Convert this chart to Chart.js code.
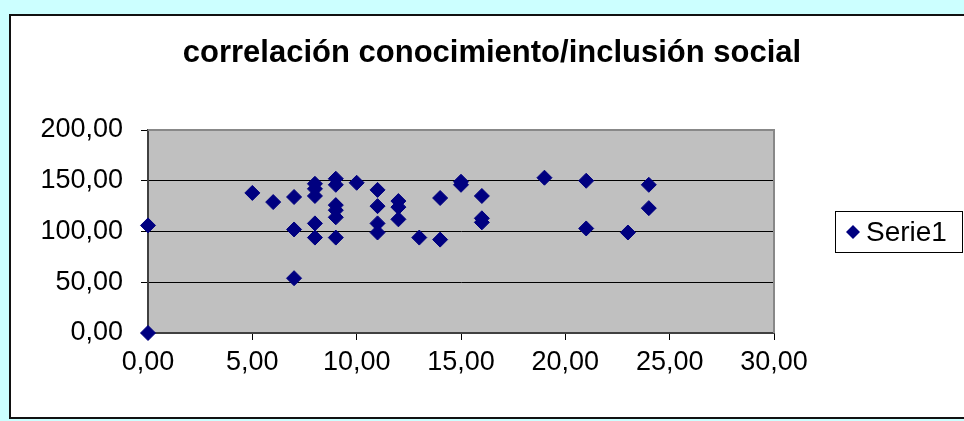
<!DOCTYPE html>
<html>
<head>
<meta charset="utf-8">
<script src="https://cdn.jsdelivr.net/npm/chart.js@4/dist/chart.umd.min.js"></script>
<style>
    html, body { margin: 0; padding: 0; background: #ccffff; }
    #wrap { position: absolute; left: 0; top: 0; width: 964px; height: 421px; overflow: hidden; }
    #frame { position: absolute; left: 9px; top: 14px; width: 1000px; height: 401px; background: #fff; border: 2px solid #111; }
    #chart { position: absolute; left: 0; top: 0; }
</style>
</head>
<body>
<div id="wrap">
    <div id="frame"></div>
    <canvas id="chart" width="964" height="421"></canvas>
</div>
<script>
// puntos (conocimiento, inclusion social)
var conocimiento = [0, 0, 5, 6, 7, 7, 7, 8, 8, 8, 8, 8, 9, 9, 9, 9, 9, 9, 10, 11, 11, 11, 11, 12, 12, 12, 13, 14, 14, 15, 15, 16, 16, 16, 19, 21, 21, 23, 24, 24];
var inclusion    = [106, 0, 138, 129, 134, 102, 54, 147, 142, 135, 108, 94, 152, 146, 126, 121, 114, 94, 148, 141, 125, 108, 99, 130, 124, 112, 94, 133, 92, 149, 146, 135, 113, 109, 153, 150, 103, 99, 146, 123];
var serieLabel = 'Serie1';
var chartTitle = 'correlación conocimiento/inclusión social';
var xTicks = [0, 5, 10, 15, 20, 25, 30];
var yTicks = [0, 50, 100, 150, 200];

;(function(win){
    var FONT = '"Liberation Sans", Arial, sans-serif';
    var NAVY = '#000080';

    function fmt(v){
        return Number(v).toFixed(2).replace('.', ',');
    }

    var points = conocimiento.map(function(x, i){
        return {x: x, y: inclusion[i]};
    });

    var decor = {
        id: 'decor',
        beforeDraw: function(chart){
            var a = chart.chartArea, ctx = chart.ctx;
            ctx.save();
            ctx.fillStyle = '#c0c0c0';
            ctx.fillRect(a.left, a.top, a.right - a.left, a.bottom - a.top);
            ctx.restore();
        },
        beforeDatasetsDraw: function(chart){
            var a = chart.chartArea, ctx = chart.ctx;
            ctx.save();
            ctx.strokeStyle = '#888';
            ctx.lineWidth = 2;
            ctx.beginPath();
            ctx.moveTo(a.left, a.top);
            ctx.lineTo(a.right, a.top);
            ctx.lineTo(a.right, a.bottom);
            ctx.stroke();
            ctx.restore();
        },
        afterDraw: function(chart){
            var ctx = chart.ctx;
            ctx.save();
            // titulo
            ctx.fillStyle = '#000';
            ctx.font = 'bold 31px ' + FONT;
            ctx.textAlign = 'center';
            ctx.textBaseline = 'middle';
            ctx.fillText(chartTitle, 492, 53);
            // leyenda
            ctx.fillStyle = '#fff';
            ctx.fillRect(835, 211, 127, 41);
            ctx.strokeStyle = '#000';
            ctx.lineWidth = 1;
            ctx.strokeRect(835.5, 211.5, 127, 41);
            ctx.fillStyle = NAVY;
            ctx.beginPath();
            ctx.moveTo(853, 225);
            ctx.lineTo(860, 232);
            ctx.lineTo(853, 239);
            ctx.lineTo(846, 232);
            ctx.closePath();
            ctx.fill();
            ctx.fillStyle = '#000';
            ctx.font = '28px ' + FONT;
            ctx.textAlign = 'left';
            ctx.fillText(chart.data.datasets[0].label, 866, 233);
            ctx.restore();
        }
    };

    new Chart(document.getElementById('chart'), {
        type: 'scatter',
        data: {
            datasets: [{
                label: serieLabel,
                data: points,
                pointStyle: 'rectRot',
                pointRadius: 7.5,
                pointHoverRadius: 7.5,
                backgroundColor: NAVY,
                borderColor: NAVY,
                borderWidth: 1,
                clip: false
            }]
        },
        options: {
            responsive: false,
            animation: false,
            layout: { padding: { left: 0, top: 130, right: 190, bottom: 0 } },
            plugins: {
                legend: { display: false },
                title: { display: false },
                tooltip: { enabled: false }
            },
            scales: {
                x: {
                    type: 'linear',
                    min: xTicks[0],
                    max: xTicks[xTicks.length - 1],
                    afterBuildTicks: function(s){ s.ticks = xTicks.map(function(v){ return {value: v}; }); },
                    afterFit: function(s){ s.height = 88; },
                    ticks: { callback: fmt, color: '#000', font: { family: FONT, size: 27 }, padding: 6, maxRotation: 0 },
                    grid: { drawOnChartArea: false, drawTicks: true, tickLength: 7, tickColor: '#000' },
                    border: { color: '#404040', width: 2 }
                },
                y: {
                    min: yTicks[0],
                    max: yTicks[yTicks.length - 1],
                    afterBuildTicks: function(s){ s.ticks = yTicks.map(function(v){ return {value: v}; }); },
                    afterFit: function(s){ s.width = 148; },
                    ticks: { callback: fmt, color: '#000', font: { family: FONT, size: 27 }, padding: 18 },
                    grid: {
                        color: function(c){ return c.tick && c.tick.value === 200 ? '#888' : '#000'; },
                        lineWidth: 1,
                        tickLength: 7,
                        tickColor: '#000'
                    },
                    border: { color: '#404040', width: 2 }
                }
            }
        },
        plugins: [decor]
    });
})(window);
</script>
</body>
</html>
